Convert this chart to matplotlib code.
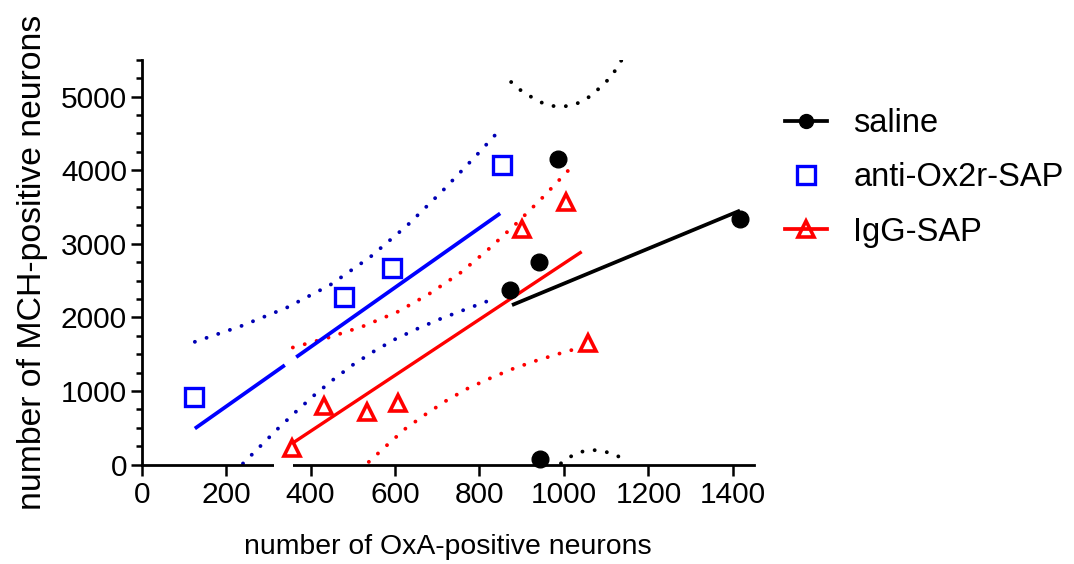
import numpy as np
import matplotlib
matplotlib.use("Agg")
import matplotlib.pyplot as plt
from matplotlib.lines import Line2D

plt.rcParams['font.family'] = ['Liberation Sans', 'DejaVu Sans']

# data points
saline_x = [872, 941, 985, 1418, 944]
saline_y = [2365, 2755, 4150, 3335, 70]
anti_x = [124, 479, 592, 854]
anti_y = [920, 2278, 2666, 4069]
igg_x = [356, 431, 533, 608, 900, 1004, 1056]
igg_y = [218, 798, 716, 829, 3199, 3570, 1654]

# regression lines
saline_fit_x = [877, 1417]
saline_fit_y = [2166, 3450]
anti_fit_x = [126, 339, np.nan, 366, 849]
anti_fit_y = [489, 1350, np.nan, 1459, 3412]
igg_fit_x = [356, 1042]
igg_fit_y = [285, 2891]

# confidence bands (dotted)
saline_upper_x = [875, 897, 922, 948, 974, 1003, 1032, 1057, 1079, 1101, 1119, 1136]
saline_upper_y = [5197, 5088, 4997, 4916, 4871, 4867, 4908, 4984, 5088, 5207, 5333, 5490]
saline_lower_x = [993, 1015, 1042, 1070, 1098, 1125, 1152]
saline_lower_y = [16, 106, 174, 197, 174, 125, 20]
anti_upper_x = [126, 235, 343, 446, 541, 629, 712, 792, 836]
anti_upper_y = [1667, 1880, 2130, 2438, 2818, 3249, 3715, 4196, 4470]
anti_lower_x = [240, 281, 323, 365, 408, 452, 499, 548, 599, 651, 704, 758, 813, 842]
anti_lower_y = [14, 249, 489, 716, 938, 1146, 1350, 1531, 1699, 1840, 1971, 2089, 2207, 2265]
igg_upper_x = [358, 441, 525, 605, 680, 754, 820, 885, 946, 1006, 1028]
igg_upper_y = [1590, 1722, 1880, 2071, 2315, 2601, 2918, 3262, 3607, 3969, 4105]
igg_lower_x = [538, 581, 625, 673, 722, 772, 824, 877, 931, 985, 1042]
igg_lower_y = [36, 263, 489, 684, 870, 1033, 1169, 1296, 1405, 1500, 1594]

x_ticks = [0, 200, 400, 600, 800, 1000, 1200, 1400]
y_ticks = [0, 1000, 2000, 3000, 4000, 5000]
axis_gap = [314, 358]

BLUE = '#0000ff'
DOT_BLUE = '#0000b4'
RED = '#ff0000'

fig = plt.figure(figsize=(10.74, 5.64), dpi=100)
ax = fig.add_axes([0.1319, 0.1764, 0.5701, 0.7177])

dots = dict(lw=2.8, linestyle=(0, (0.01, 3.16)), dash_capstyle='round', zorder=2)
ax.plot(saline_upper_x, saline_upper_y, color='black', **dots)
ax.plot(saline_lower_x, saline_lower_y, color='black', **dots)
ax.plot(anti_upper_x, anti_upper_y, color=DOT_BLUE, **dots)
ax.plot(anti_lower_x, anti_lower_y, color=DOT_BLUE, **dots)
ax.plot(igg_upper_x, igg_upper_y, color=RED, **dots)
ax.plot(igg_lower_x, igg_lower_y, color=RED, **dots)

ax.plot(saline_fit_x, saline_fit_y, color='black', lw=2.7, solid_capstyle='butt', zorder=3)
ax.plot(anti_fit_x, anti_fit_y, color=BLUE, lw=2.7, solid_capstyle='butt', zorder=3)
ax.plot(igg_fit_x, igg_fit_y, color=RED, lw=2.4, solid_capstyle='butt', zorder=3)

ax.plot(saline_x, saline_y, 'o', color='black', ms=12, ls='none', clip_on=False, zorder=4)
ax.plot(anti_x, anti_y, 's', mfc='none', mec=BLUE, mew=2.4, ms=12.5, ls='none', clip_on=False, zorder=4)
ax.plot(igg_x, igg_y, '^', mfc='none', mec=RED, mew=2.6, ms=11, ls='none', clip_on=False, zorder=4)

# white break in the x axis line
ax.plot(axis_gap, [0, 0], color='white', lw=4, solid_capstyle='butt', clip_on=False, zorder=2.7)

ax.set_xlim(0, 1450)
ax.set_ylim(0, 5500)
ax.set_xticks(x_ticks)
ax.set_yticks(y_ticks)
ax.set_yticks(np.arange(0, 5501, 250), minor=True)
for s in ['top', 'right']:
    ax.spines[s].set_visible(False)
for s in ['left', 'bottom']:
    ax.spines[s].set_linewidth(2)
ax.tick_params(which='major', length=8, width=1.8, labelsize=21.5)
ax.tick_params(axis='x', pad=4)
ax.tick_params(axis='y', pad=2.5)
ax.tick_params(which='minor', length=4.3, width=1.8)

ax.set_xlabel('number of OxA-positive neurons', fontsize=20.4)
ax.set_ylabel('number of MCH-positive neurons', fontsize=24.3)
ax.xaxis.set_label_coords(0.5, -0.172)
ax.yaxis.set_label_coords(-0.153, 0.5)

handles = [
    Line2D([], [], color='black', lw=2.7, marker='o', ms=10),
    Line2D([], [], color=BLUE, ls='none', marker='s', mfc='none', mew=2.4, ms=12.5),
    Line2D([], [], color=RED, lw=2.7, marker='^', mfc='none', mew=2.6, ms=11),
]
labels = ['saline', 'anti-Ox2r-SAP', 'IgG-SAP']
fig.legend(handles, labels, loc='upper left', bbox_to_anchor=(0.7309, 0.808),
           frameon=False, fontsize=23.5, handlelength=1.29, handletextpad=0.8,
           labelspacing=0.71, borderpad=0, borderaxespad=0)

fig.savefig('out.png', dpi=100)
